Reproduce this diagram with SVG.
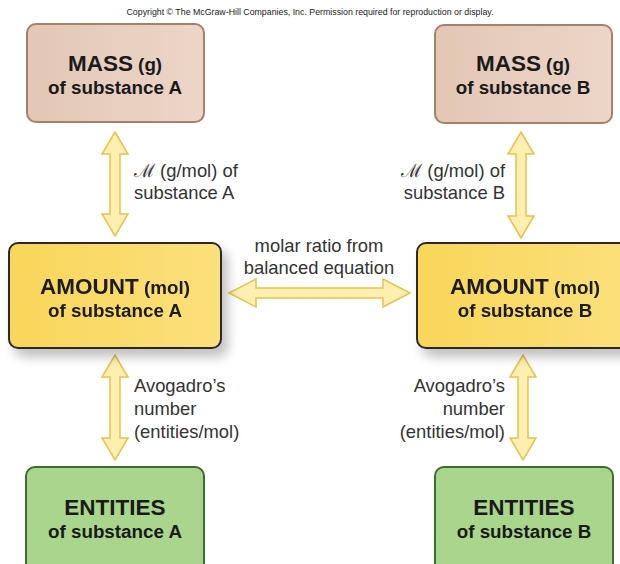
<svg xmlns="http://www.w3.org/2000/svg" width="620" height="564" viewBox="0 0 620 564">
<defs>
<style>
.t{font-family:"Liberation Sans",Arial,sans-serif;fill:#1a1a1a}
.b{font-weight:bold;text-anchor:middle}
.big{font-size:22.5px}
.mid{font-size:18.8px}
.lab{font-size:18.4px;fill:#333}
.arr{fill:#fcefb0;stroke:#e6c24e;stroke-width:1.5;stroke-linejoin:miter}
.mass{fill:url(#gm);stroke:#a5806a;stroke-width:2}
.amt{fill:url(#ga);stroke:#2a2a2a;stroke-width:2}
.ent{fill:#a9d58c;stroke:#3d6b30;stroke-width:2}
</style>
<linearGradient id="gm" x1="0" y1="0" x2="1" y2="0"><stop offset="0" stop-color="#e3c7b5"/><stop offset="1" stop-color="#ecd6c8"/></linearGradient>
<linearGradient id="ga" x1="0" y1="0" x2="1" y2="0"><stop offset="0" stop-color="#f9d65a"/><stop offset="1" stop-color="#fbe07c"/></linearGradient>
<filter id="sh" x="-20%" y="-20%" width="150%" height="150%"><feGaussianBlur in="SourceAlpha" stdDeviation="6"/><feOffset dx="6" dy="8"/><feComponentTransfer><feFuncA type="linear" slope="0.25"/></feComponentTransfer><feMerge><feMergeNode/><feMergeNode in="SourceGraphic"/></feMerge></filter>
</defs>
<rect width="620" height="564" fill="#ffffff"/>
<text class="t" x="310" y="15" text-anchor="middle" font-size="8.8" fill="#333">Copyright © The McGraw-Hill Companies, Inc. Permission required for reproduction or display.</text>

<g id="connectors">
<path class="arr" d="M115,132 L128,154 L120,154 L120,214 L128,214 L115,236 L102,214 L110,214 L110,154 L102,154 Z"/>
<path class="arr" d="M521,132 L534,154 L526,154 L526,216 L534,216 L521,238 L508,216 L516,216 L516,154 L508,154 Z"/>
<path class="arr" d="M115,355 L128,377 L120,377 L120,438 L128,438 L115,460 L102,438 L110,438 L110,377 L102,377 Z"/>
<path class="arr" d="M523,355 L536,377 L528,377 L528,438 L536,438 L523,460 L510,438 L518,438 L518,377 L510,377 Z"/>
<path class="arr" d="M229,293 L256,279 L256,288 L383,288 L383,279 L410,293 L383,307 L383,298 L256,298 L256,307 Z"/>
</g>

<g id="massA">
<rect class="mass" x="27" y="24" width="177" height="98" rx="9"/>
<text class="t b" x="115" y="71"><tspan class="big">MASS</tspan><tspan class="mid"> (g)</tspan></text>
<text class="t b mid" x="115" y="94">of substance A</text>
</g>
<g id="massB">
<rect class="mass" x="435" y="25" width="177" height="98" rx="9"/>
<text class="t b" x="523" y="71"><tspan class="big">MASS</tspan><tspan class="mid"> (g)</tspan></text>
<text class="t b mid" x="523" y="94">of substance B</text>
</g>

<g id="labelMA">
<text class="t lab" x="134" y="177">ℳ (g/mol) of</text>
<text class="t lab" x="134" y="199">substance A</text>
</g>
<g id="labelMB">
<text class="t lab" x="505" y="177" text-anchor="end">ℳ (g/mol) of</text>
<text class="t lab" x="505" y="199" text-anchor="end">substance B</text>
</g>

<g id="amountA" filter="url(#sh)">
<rect class="amt" x="9" y="243" width="212" height="105" rx="9"/>
<text class="t b" x="115" y="294"><tspan class="big">AMOUNT</tspan><tspan class="mid"> (mol)</tspan></text>
<text class="t b mid" x="115" y="317">of substance A</text>
</g>
<g id="amountB" filter="url(#sh)">
<rect class="amt" x="417" y="243" width="215" height="105" rx="9"/>
<text class="t b" x="525" y="294"><tspan class="big">AMOUNT</tspan><tspan class="mid"> (mol)</tspan></text>
<text class="t b mid" x="525" y="317">of substance B</text>
</g>

<g id="labelRatio">
<text class="t lab" x="319" y="252" text-anchor="middle">molar ratio from</text>
<text class="t lab" x="319" y="274" text-anchor="middle">balanced equation</text>
</g>

<g id="labelAvA">
<text class="t lab" x="134" y="392">Avogadro’s</text>
<text class="t lab" x="134" y="415">number</text>
<text class="t lab" x="134" y="438">(entities/mol)</text>
</g>
<g id="labelAvB">
<text class="t lab" x="505" y="392" text-anchor="end">Avogadro’s</text>
<text class="t lab" x="505" y="415" text-anchor="end">number</text>
<text class="t lab" x="505" y="438" text-anchor="end">(entities/mol)</text>
</g>

<g id="entitiesA">
<rect class="ent" x="26" y="467" width="178" height="106" rx="9"/>
<text class="t b big" x="115" y="515">ENTITIES</text>
<text class="t b mid" x="115" y="538">of substance A</text>
</g>
<g id="entitiesB">
<rect class="ent" x="435" y="467" width="178" height="106" rx="9"/>
<text class="t b big" x="524" y="515">ENTITIES</text>
<text class="t b mid" x="524" y="538">of substance B</text>
</g>
</svg>
